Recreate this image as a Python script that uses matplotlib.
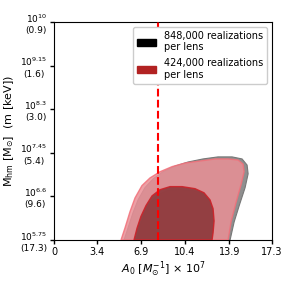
import matplotlib
matplotlib.use("Agg")
import matplotlib.pyplot as plt
from matplotlib.patches import Patch

# axis ticks
x_ticks = [0, 3.4, 6.9, 10.4, 13.9, 17.3]
y_ticks = [5.75, 6.6, 7.45, 8.3, 9.15, 10.0]
y_keV = ["17.3", "9.6", "5.4", "3.0", "1.6", "0.9"]

a0_line = 8.25

# contour outlines (x = A0 * 1e7, y = log10 M_hm)
black_95_x = [5.56, 5.87, 6.27, 6.67, 7.22, 7.86, 8.65, 9.60, 10.63, 11.82, 13.01, 14.13, 14.92, 15.32, 15.40, 15.16, 14.72, 14.29, 13.97]
black_95_y = [5.75, 5.98, 6.28, 6.53, 6.77, 6.94, 7.08, 7.19, 7.27, 7.33, 7.37, 7.37, 7.33, 7.21, 7.04, 6.77, 6.44, 6.10, 5.75]
black_68_x = [6.59, 6.83, 7.22, 7.70, 8.25, 8.97, 10.00, 11.03, 11.82, 12.30, 12.54, 12.62, 12.54]
black_68_y = [5.75, 6.02, 6.28, 6.49, 6.63, 6.71, 6.73, 6.71, 6.65, 6.53, 6.36, 6.10, 5.75]

red_95_x = [5.32, 5.63, 6.03, 6.43, 6.98, 7.62, 8.41, 9.37, 10.40, 11.59, 12.78, 13.81, 14.60, 15.00, 15.08, 14.84, 14.44, 14.05, 13.81]
red_95_y = [5.75, 5.98, 6.30, 6.57, 6.81, 6.96, 7.08, 7.18, 7.25, 7.29, 7.33, 7.33, 7.31, 7.23, 7.08, 6.83, 6.48, 6.11, 5.75]
red_68_x = [6.35, 6.59, 6.90, 7.30, 7.78, 8.41, 9.21, 10.16, 11.19, 11.90, 12.38, 12.62, 12.70, 12.62, 12.54]
red_68_y = [5.75, 5.98, 6.21, 6.42, 6.61, 6.73, 6.79, 6.79, 6.75, 6.67, 6.53, 6.36, 6.12, 5.89, 5.75]

fig = plt.figure(figsize=(2.87, 2.87), dpi=100)
ax = fig.add_axes([0.188, 0.164, 0.760, 0.759])

ax.fill(black_95_x, black_95_y, facecolor="#8f8f8f", edgecolor="#777777", lw=0.8, zorder=1)
ax.fill(black_68_x, black_68_y, facecolor="#3a2a2a", edgecolor="#1a1010", lw=0.8, zorder=2)
ax.fill(red_95_x, red_95_y, facecolor="#e98f96", alpha=0.85, edgecolor="#f2707a", lw=1.0, zorder=3)
ax.fill(red_68_x, red_68_y, facecolor="#8e3a3d", alpha=0.92, edgecolor="#cc2229", lw=1.0, zorder=4)

ax.axvline(a0_line, color="red", ls="--", lw=1.5, zorder=5)

ax.set_xlim(0, 17.3)
ax.set_ylim(5.75, 10.0)
ax.set_xticks(x_ticks)
ax.set_xticklabels([str(t) for t in x_ticks], fontsize=7)
ax.set_yticks(y_ticks)
ylabels = [r"10$^{%s}$" % ("%g" % t) + "\n(" + k + ")" for t, k in zip(y_ticks, y_keV)]
ax.set_yticklabels(ylabels, fontsize=6.5, multialignment="center")
ax.tick_params(length=3, width=1, pad=2)

ax.set_xlabel(r"$A_0$ [$M_{\odot}^{-1}$] $\times$ 10$^7$", fontsize=8, labelpad=2)
ax.set_ylabel(r"M$_{\rm hm}$ [M$_{\odot}$]  (m [keV])", fontsize=8, labelpad=3)

handles = [Patch(color="black"), Patch(color="#b22222")]
ax.legend(handles, ["848,000 realizations\nper lens", "424,000 realizations\nper lens"],
          loc="upper right", fontsize=7, handlelength=2.0, labelspacing=0.6,
          borderaxespad=0.5, framealpha=1.0)

fig.savefig("out.png", dpi=100)
